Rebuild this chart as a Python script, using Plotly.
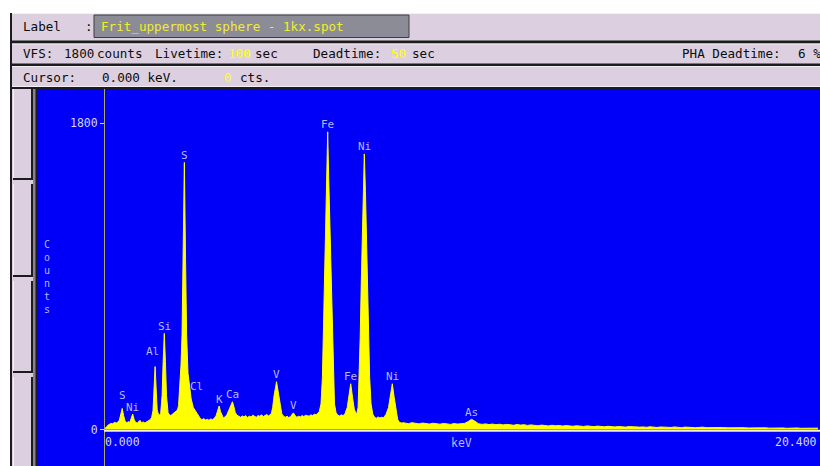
import plotly.graph_objects as go

# ---------------------------------------------------------------
# EDS spectrum: counts per energy (keV), read channel by channel
# ---------------------------------------------------------------
low_kev = [
    0.00, 0.04, 0.08, 0.12, 0.16, 0.20, 0.25, 0.30, 0.35, 0.40,
    0.44, 0.48, 0.52, 0.56, 0.60, 0.65, 0.70, 0.74, 0.78, 0.82,
    0.86, 0.90, 0.95, 1.00, 1.03, 1.07, 1.12, 1.17, 1.22, 1.27,
    1.32, 1.36, 1.40, 1.43, 1.46, 1.49, 1.52, 1.56, 1.60, 1.62,
    1.66, 1.69, 1.723, 1.755, 1.785, 1.83, 1.87, 1.91, 1.96, 2.01,
]
low_counts = [
    0, 12, 18, 26, 30, 36, 34, 42, 38, 44,
    55, 88, 124, 82, 50, 40, 46, 42, 62, 91,
    60, 42, 38, 46, 54, 40, 44, 38, 48, 52,
    58, 70, 110, 230, 370, 240, 115, 88, 85, 95,
    200, 400, 565, 400, 200, 100, 86, 82, 90, 96,
]

sulfur_kev = [
    2.06, 2.10, 2.13, 2.17, 2.20, 2.23, 2.26, 2.296, 2.33, 2.36,
    2.40, 2.44, 2.49, 2.55, 2.60, 2.63, 2.67, 2.71, 2.76,
]
sulfur_counts = [
    104, 115, 140, 250, 380, 560, 1000, 1570, 1000, 560,
    330, 260, 180, 130, 112, 108, 88, 72, 62,
]

mid_kev = [
    2.80, 2.85, 2.90, 2.95, 3.00, 3.05, 3.10, 3.15, 3.20, 3.24,
    3.29, 3.33, 3.37, 3.41, 3.46, 3.51, 3.56, 3.61, 3.67, 3.71,
    3.75, 3.80, 3.85, 3.90, 3.95, 4.00, 4.05, 4.10, 4.15, 4.20,
    4.25, 4.30, 4.35, 4.40, 4.45, 4.50, 4.55, 4.60, 4.65, 4.70,
    4.74, 4.78, 4.82, 4.86, 4.93, 5.00, 5.04, 5.08, 5.13, 5.18,
    5.23, 5.28, 5.33, 5.37, 5.41, 5.46, 5.51, 5.56, 5.61, 5.66,
    5.71, 5.76, 5.81, 5.86, 5.91, 5.96, 6.01, 6.06, 6.11,
]
mid_counts = [
    58, 64, 56, 60, 54, 62, 58, 66, 80, 105,
    138, 105, 80, 68, 74, 86, 110, 140, 163, 135,
    100, 84, 78, 72, 80, 74, 82, 70, 78, 74,
    84, 76, 72, 82, 78, 86, 76, 82, 88, 80,
    86, 92, 130, 200, 281, 200, 130, 92, 78, 72,
    78, 70, 76, 86, 98, 82, 72, 78, 74, 82,
    76, 84, 80, 78, 86, 82, 90, 86, 96,
]

iron_nickel_kev = [
    6.15, 6.20, 6.24, 6.265, 6.295, 6.325, 6.36, 6.391, 6.42, 6.458,
    6.488, 6.518, 6.545, 6.585, 6.63, 6.68, 6.73, 6.78, 6.83, 6.88,
    6.95, 7.00, 7.049, 7.10, 7.15, 7.19, 7.22, 7.26, 7.29, 7.32,
    7.35, 7.375, 7.405, 7.437, 7.47, 7.50, 7.53, 7.56, 7.59, 7.63,
    7.68, 7.73, 7.78, 7.83, 7.88, 7.93, 7.98, 8.02, 8.06, 8.13,
    8.18, 8.237, 8.29, 8.34, 8.39, 8.44, 8.50, 8.55,
]
iron_nickel_counts = [
    105, 150, 305, 540, 855, 1170, 1480, 1750, 1480, 1170,
    855, 540, 305, 150, 100, 84, 80, 86, 82, 90,
    130, 190, 269, 190, 120, 100, 90, 130, 305, 540,
    855, 1130, 1400, 1620, 1400, 1130, 855, 540, 305, 150,
    90, 72, 66, 74, 68, 72, 70, 78, 90, 130,
    190, 269, 190, 110, 60, 42, 38, 40,
]

# high-energy tail on a 0.1 keV channel grid from 8.6 keV
tail_start_kev = 8.6
tail_step_kev = 0.1
tail_counts = [
    38, 34, 40, 36, 33, 38, 35, 32, 37, 34,
    31, 36, 33, 30, 35, 32, 34, 36, 46, 60,
    48, 34, 30, 33, 29, 32, 28, 31, 27, 30,
    28, 25, 29, 26, 28, 24, 27, 25, 22, 26,
    24, 21, 25, 22, 24, 20, 23, 21, 19, 22,
    20, 18, 21, 19, 17, 20, 18, 16, 19, 17,
    15, 18, 16, 14, 17, 15, 16, 14, 15, 13,
    16, 14, 12, 15, 13, 14, 12, 15, 13, 11,
    14, 12, 13, 11, 12, 14, 11, 12, 10, 13,
    11, 12, 10, 11, 9, 12, 10, 11, 9, 10,
    8, 11, 9, 10, 8, 9, 10, 8, 9, 7,
    9, 8, 9, 7, 8, 9, 7, 8, 8,
]
tail_kev = [round(tail_start_kev + tail_step_kev * i, 2) for i in range(len(tail_counts))]

energy_kev = low_kev + sulfur_kev + mid_kev + iron_nickel_kev + tail_kev
counts = low_counts + sulfur_counts + mid_counts + iron_nickel_counts + tail_counts

# element identifications and the line energies they sit on
peak_labels = ["S", "Ni", "Al", "Si", "S", "Cl", "K", "Ca", "V", "V",
               "Fe", "Fe", "Ni", "Ni", "As"]
peak_kev = [0.52, 0.82, 1.46, 1.723, 2.296, 2.63, 3.29, 3.67, 4.93, 5.41,
            6.391, 7.049, 7.437, 8.237, 10.5]

# header readouts
label_text = "Frit_uppermost sphere - 1kx.spot"
vfs_counts = "1800"
livetime_s = "100"
deadtime_s = "50"
pha_deadtime = "6"
cursor_kev = "0.000"
cursor_cts = "0"
full_scale = 1800
kev_max = 20.4

# ---------------------------------------------------------------
# page geometry (pixels)
# ---------------------------------------------------------------
W, H = 820, 466
X0_PX, XMAX_PX = 104.0, 818.0      # 0 keV and full-scale keV
Y0_PX, YFS_PX = 429.5, 123.3       # 0 counts and full-scale counts
PLOT_LEFT, PLOT_TOP = 37, 89

kev_per_px = kev_max / (XMAX_PX - X0_PX)
cts_per_px = full_scale / (Y0_PX - YFS_PX)
x_range = [(PLOT_LEFT - X0_PX) * kev_per_px, (W - X0_PX) * kev_per_px]
y_range = [-(H - Y0_PX) * cts_per_px, (Y0_PX - PLOT_TOP) * cts_per_px]


def fx(x):
    return x / W


def fy(y):
    return 1 - y / H


MONO = "DejaVu Sans Mono"
LILAC = "#dcd0e0"
DARK = "#1c1c1c"
INK = "#0c0c0c"
YELLOW = "#ffff00"
BLUE = "#0000f8"
LABEL_BLUE = "#b8b8ff"
HEAD_SIZE = 12.6

shapes = []
annotations = []


def rect(x0, y0, x1, y1, fill, line=None, lw=0):
    shapes.append(dict(type="rect", xref="paper", yref="paper",
                       x0=fx(x0), x1=fx(x1), y0=fy(y1), y1=fy(y0),
                       fillcolor=fill, line=dict(width=lw, color=line or fill),
                       layer="above"))


def text(x, y, s, color=INK, size=HEAD_SIZE, anchor="left"):
    annotations.append(dict(xref="paper", yref="paper", x=fx(x), y=fy(y),
                            text=s, showarrow=False, xanchor=anchor,
                            yanchor="middle", borderpad=0,
                            font=dict(family=MONO, size=size, color=color)))


# window frame and header bars
rect(10, 13, W, PLOT_TOP, LILAC)
rect(10, PLOT_TOP, PLOT_LEFT, H, LILAC)
rect(10, 13, 12, H, DARK)
rect(12, 13, W, 14, "#f4eef6")
rect(12, 40.5, W, 43.5, DARK)
rect(12, 43.5, W, 44.5, "#f4eef6")
rect(12, 63.5, W, 66, DARK)
rect(12, 66, W, 67, "#f4eef6")
rect(12, 86, W, 87, "#f4eef6")
rect(12, 87, W, PLOT_TOP, DARK)

# label field
rect(94, 15, 409, 37.5, "#8c8c96", "#3c3c3c", 1)

# side buttons
for top, bottom in [(PLOT_TOP, 180), (184, 277), (281, 373), (377, H + 2)]:
    rect(13, top, 33, bottom, LILAC)
    rect(13, top, 14, bottom, "#f6f0f8")
    rect(31, top, 33, bottom, DARK)
    rect(13, bottom - 2, 33, bottom, DARK)
rect(33, PLOT_TOP, PLOT_LEFT, H, "#8a8090")
rect(35.5, PLOT_TOP, PLOT_LEFT, H, DARK)

# header text
text(22, 27, "Label")
text(84, 27, ":")
text(100, 27, label_text, color="#f0ec30")
text(22, 53.5, "VFS:")
text(63, 53.5, vfs_counts)
text(96, 53.5, "counts")
text(154, 53.5, "Livetime:")
text(227, 53.5, livetime_s, color=YELLOW)
text(254, 53.5, "sec")
text(312, 53.5, "Deadtime:")
text(390, 53.5, deadtime_s, color=YELLOW)
text(411, 53.5, "sec")
text(681, 53.5, "PHA Deadtime:")
text(797, 53.5, pha_deadtime + " %")
text(22, 77, "Cursor:")
text(101, 77, cursor_kev + " keV.")
text(223, 77, cursor_cts, color=YELLOW)
text(239, 77, "cts.")

# axis captions inside the spectrum window
text(46.5, 276.5, "C<br>o<br>u<br>n<br>t<br>s", color=LABEL_BLUE, size=10, anchor="center")
annotations.append(dict(xref="x", yref="paper", x=0, y=fy(441.7), text="0.000",
                        showarrow=False, xanchor="left", yanchor="middle", borderpad=0,
                        font=dict(family=MONO, size=11.5, color="#d4d4ff")))
annotations.append(dict(xref="x", yref="paper", x=kev_max, y=fy(441.7), text=f"{kev_max:.3f}",
                        showarrow=False, xanchor="right", yanchor="middle", borderpad=0,
                        font=dict(family=MONO, size=11.5, color="#d4d4ff")))
annotations.append(dict(xref="x", yref="paper", x=kev_max / 2, y=fy(442.7), text="keV",
                        showarrow=False, xanchor="center", yanchor="middle", borderpad=0,
                        font=dict(family=MONO, size=11.5, color=LABEL_BLUE)))

# element labels above their peaks
extra_lift = {0: 6, 2: 8, 5: 17}
extra_shift = {2: -3}
for i, (name, e) in enumerate(zip(peak_labels, peak_kev)):
    near = [c for k, c in zip(energy_kev, counts) if abs(k - e) <= 0.035]
    top = max(near)
    annotations.append(dict(xref="x", yref="y", x=e, y=top, text=name,
                            showarrow=False, xanchor="center", yanchor="middle",
                            yshift=7 + extra_lift.get(i, 0), xshift=extra_shift.get(i, 0),
                            borderpad=0,
                            font=dict(family=MONO, size=11, color=LABEL_BLUE)))

# baseline under the spectrum
shapes.append(dict(type="line", xref="x", yref="y", x0=0, x1=x_range[1],
                   y0=-1.2 * cts_per_px, y1=-1.2 * cts_per_px,
                   line=dict(color="#f2f2d0", width=2), layer="above"))

fig = go.Figure()
fig.add_trace(go.Scatter(
    x=energy_kev, y=counts, mode="lines",
    line=dict(color=YELLOW, width=1),
    fill="tozeroy", fillcolor=YELLOW, hoverinfo="skip", showlegend=False,
))

fig.update_layout(
    width=W, height=H,
    margin=dict(l=0, r=0, t=0, b=0),
    paper_bgcolor="white",
    plot_bgcolor=BLUE,
    showlegend=False,
    xaxis=dict(domain=[fx(PLOT_LEFT), 1], range=x_range, visible=False, fixedrange=True),
    yaxis=dict(domain=[0, fy(PLOT_TOP)], range=y_range, anchor="free", position=fx(X0_PX),
               showgrid=False, zeroline=False, showline=True, linecolor="#a8a860", linewidth=1,
               tickvals=[0, full_scale], ticktext=["0", str(full_scale)],
               ticks="outside", ticklen=4, tickcolor="#c8c8ff",
               tickfont=dict(family=MONO, size=11.5, color="#d4d4ff"), fixedrange=True),
    shapes=shapes,
    annotations=annotations,
)

fig.write_html("out.html")
